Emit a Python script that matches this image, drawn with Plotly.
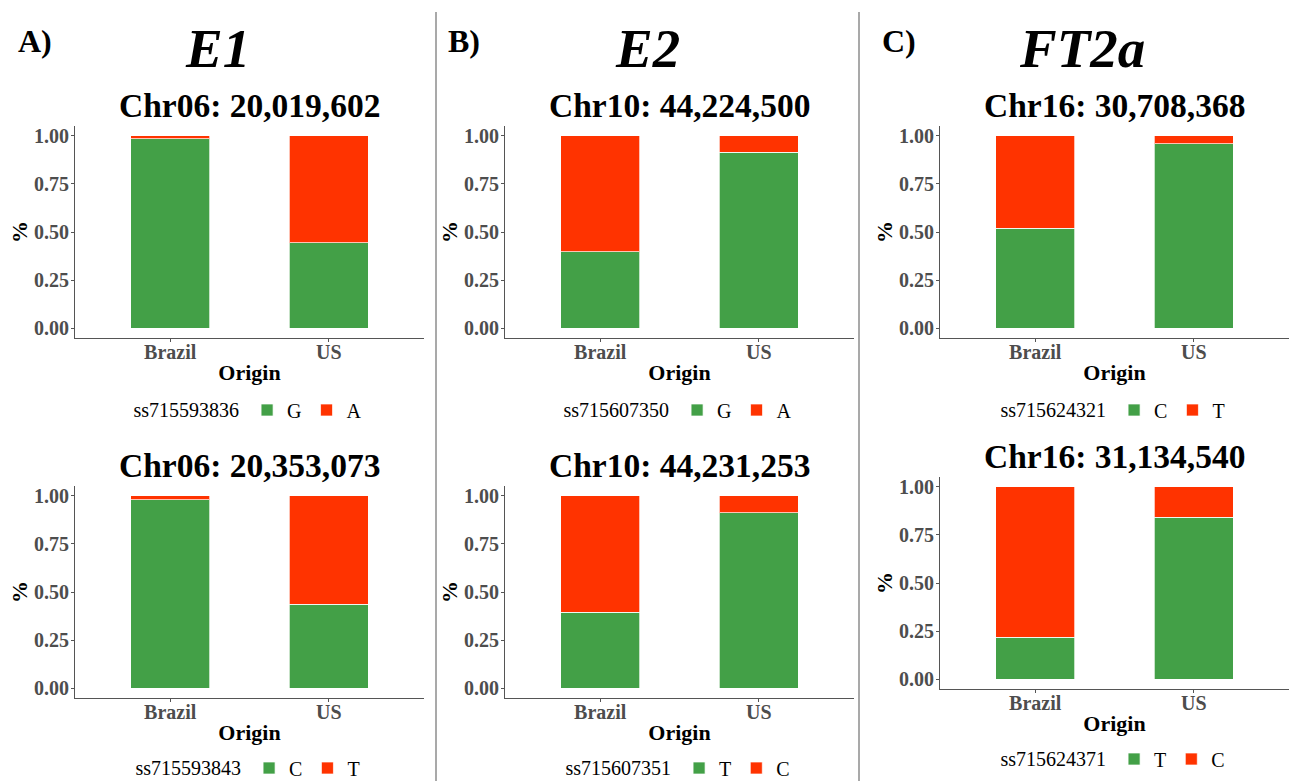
import plotly.graph_objects as go

# ---- data -------------------------------------------------------------
origins = ["Brazil", "US"]

genes = ["E1", "E2", "FT2a"]
panel_letters = ["A)", "B)", "C)"]

# panels in reading order: top row (A, B, C), bottom row (A, B, C)
loci = ["Chr06: 20,019,602", "Chr10: 44,224,500", "Chr16: 30,708,368",
        "Chr06: 20,353,073", "Chr10: 44,231,253", "Chr16: 31,134,540"]
snps = ["ss715593836", "ss715607350", "ss715624321",
        "ss715593843", "ss715607351", "ss715624371"]

# allele names (first = green, lower segment; second = red, upper segment)
allele_1 = ["G", "G", "C", "C", "T", "T"]
allele_2 = ["A", "A", "T", "T", "C", "C"]

# allele frequencies for Brazil, US
freq_1 = [[0.983, 0.443], [0.398, 0.915], [0.519, 0.957],
          [0.978, 0.436], [0.395, 0.912], [0.218, 0.841]]
freq_2 = [[0.017, 0.557], [0.602, 0.085], [0.481, 0.043],
          [0.022, 0.564], [0.605, 0.088], [0.782, 0.159]]

y_ticks = [0.0, 0.25, 0.5, 0.75, 1.0]
y_ticktext = ["0.00", "0.25", "0.50", "0.75", "1.00"]

# ---- styling ------------------------------------------------------------
W, H = 1295, 781
GREEN = "#43A047"
RED = "#FF3300"
AXIS = "#555555"
TICKTXT = "#4D4D4D"
SERIF = "Liberation Serif"

# plotting areas in pixels: (left, right) and (top, bottom)
col_px = [(75, 424), (505, 854), (940, 1289)]
row_px = [[(126, 338), (126, 338), (126, 338)],
          [(486, 698), (486, 698), (477, 689)]]
title_y_px = [[103, 103, 103], [463, 463, 455]]
legend_y_px = [[410, 410, 410], [768, 768, 759]]


def fx(px):
    return px / W


def fy(py):
    return 1 - py / H


fig = go.Figure()
layout = dict(
    width=W, height=H,
    margin=dict(l=0, r=0, t=0, b=0, autoexpand=False),
    paper_bgcolor="white", plot_bgcolor="white",
    barmode="stack",
    showlegend=True,
    annotations=[], shapes=[],
)

for i in range(6):
    r, c = divmod(i, 3)
    n = i + 1
    xa = "x" if n == 1 else f"x{n}"
    ya = "y" if n == 1 else f"y{n}"
    lg = "legend" if n == 1 else f"legend{n}"

    fig.add_trace(go.Bar(
        x=origins, y=freq_1[i], name=allele_1[i], width=0.5,
        marker=dict(color=GREEN, line=dict(color="rgba(255,255,255,0.7)", width=1)),
        xaxis=xa, yaxis=ya, legend=lg, hoverinfo="x+y+name",
    ))
    fig.add_trace(go.Bar(
        x=origins, y=freq_2[i], name=allele_2[i], width=0.5,
        marker=dict(color=RED, line=dict(color="rgba(255,255,255,0.7)", width=1)),
        xaxis=xa, yaxis=ya, legend=lg, hoverinfo="x+y+name",
    ))

    x0, x1 = col_px[c]
    y0, y1 = row_px[r][c]
    xkey = "xaxis" if n == 1 else f"xaxis{n}"
    ykey = "yaxis" if n == 1 else f"yaxis{n}"

    layout[xkey] = dict(
        domain=[fx(x0), fx(x1)], anchor=ya, type="category",
        range=[-0.6, 1.6], showgrid=False, zeroline=False,
        showline=True, linecolor=AXIS, linewidth=1.2,
        ticks="outside", ticklen=3, tickcolor=AXIS, tickwidth=1,
        ticklabelstandoff=-7,
        tickfont=dict(family=SERIF, size=20, color=TICKTXT, weight="bold"),
        title=dict(text="Origin", standoff=2,
                   font=dict(family=SERIF, size=22, color="black", weight="bold")),
        fixedrange=True,
    )
    layout[ykey] = dict(
        domain=[fy(y1), fy(y0)], anchor=xa,
        range=[-0.05, 1.05], showgrid=False, zeroline=False,
        showline=True, linecolor=AXIS, linewidth=1.2,
        ticks="outside", ticklen=3, tickcolor=AXIS, tickwidth=1,
        ticklabelstandoff=-2,
        tickvals=y_ticks, ticktext=y_ticktext,
        tickfont=dict(family=SERIF, size=20, color=TICKTXT, weight="bold"),
        title=dict(text="%", standoff=0,
                   font=dict(family=SERIF, size=22, color="black", weight="bold")),
        fixedrange=True,
    )

    # locus title above each plot
    layout["annotations"].append(dict(
        text=f"<b>{loci[i]}</b>", xref="paper", yref="paper",
        x=fx((x0 + x1) / 2), y=fy(title_y_px[r][c] + 2),
        xanchor="center", yanchor="middle", showarrow=False,
        font=dict(family=SERIF, size=33.5, color="black"),
    ))

    # per-plot legend with the SNP id as its title
    layout[lg] = dict(
        orientation="h", xanchor="center", yanchor="middle",
        x=fx((x0 + x1) / 2), y=fy(legend_y_px[r][c]),
        bgcolor="rgba(0,0,0,0)", borderwidth=0,
        title=dict(text=snps[i], side="left",
                   font=dict(family=SERIF, size=20, color="black")),
        font=dict(family=SERIF, size=20, color="black"),
        traceorder="normal", itemclick=False, itemdoubleclick=False,
    )

# gene names and panel letters across the top
gene_x_px = [217, 647, 1082]
letter_x_px = [16, 446, 880]
for c in range(3):
    layout["annotations"].append(dict(
        text=f"<b><i>{genes[c]}</i></b>", xref="paper", yref="paper",
        x=fx(gene_x_px[c]), y=fy(49), xanchor="center", yanchor="middle",
        showarrow=False, font=dict(family=SERIF, size=55, color="black"),
    ))
    layout["annotations"].append(dict(
        text=f"<b>{panel_letters[c]}</b>", xref="paper", yref="paper",
        x=fx(letter_x_px[c]), y=fy(41), xanchor="left", yanchor="middle",
        showarrow=False, font=dict(family=SERIF, size=32, color="black"),
    ))

# vertical separators between the three gene columns
for sx in (436, 859):
    layout["shapes"].append(dict(
        type="line", xref="paper", yref="paper",
        x0=fx(sx), x1=fx(sx), y0=fy(12), y1=0,
        line=dict(color="#8C8C8C", width=1.5),
    ))

fig.update_layout(layout)
fig.write_html("out.html")
